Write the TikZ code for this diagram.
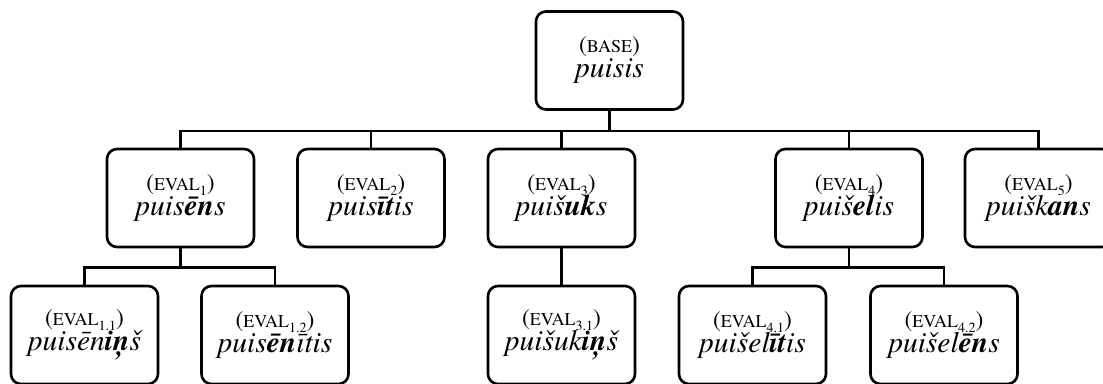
\documentclass[tikz,border=0pt]{standalone}
\usepackage{fontspec}
\setmainfont{texgyretermes}[Extension=.otf, UprightFont=*-regular,
  ItalicFont=*-italic, BoldFont=*-bold, BoldItalicFont=*-bolditalic]
\usepackage{graphicx}

% fake small capitals and lowered index for the category labels
\newcommand{\catname}[1]{{\fontsize{18}{18}\selectfont #1}}
\newcommand{\catidx}[1]{\raisebox{-5pt}{\fontsize{14}{14}\selectfont #1}}
\newcommand{\catline}[2]{{\fontsize{23.5}{25}\selectfont(\catname{#1}\catidx{#2})}}
\newcommand{\wordline}[1]{{\itshape #1}}
\newcommand{\formfont}{\fontsize{29.5}{25}\selectfont\lineskiplimit=-100pt\relax}

\tikzset{
  formbox/.style={draw, line width=2.6pt, rounded corners=10pt,
    minimum width=147pt, minimum height=98pt, inner sep=0pt,
    align=center, font=\formfont},
  branch/.style={line width=2.6pt}
}

\begin{document}
\begin{tikzpicture}[x=1pt, y=-1pt]
  \useasboundingbox (0,0) rectangle (1103,383);

  % base form
  \node[formbox] (base) at (609.5,60.5)
    {\catline{BASE}{}\\\wordline{puisis}};

  % first-level evaluatives
  \node[formbox] (e1) at (180.5,198) {\catline{EVAL}{1}\\\wordline{puis\textbf{ēn}s}};
  \node[formbox] (e2) at (371,198)   {\catline{EVAL}{2}\\\wordline{puis\textbf{īt}is}};
  \node[formbox] (e3) at (561.5,198) {\catline{EVAL}{3}\\\wordline{puiš\textbf{uk}s}};
  \node[formbox] (e4) at (849,198)   {\catline{EVAL}{4}\\\wordline{puiš\textbf{el}is}};
  \node[formbox] (e5) at (1038.5,198){\catline{EVAL}{5}\\\wordline{puišk\textbf{an}s}};

  % second-level evaluatives
  \node[formbox] (e11) at (84.5,335)  {\catline{EVAL}{1.1}\\\wordline{puisēn\textbf{iņ}š}};
  \node[formbox] (e12) at (275,335)   {\catline{EVAL}{1.2}\\\wordline{puis\textbf{ēn}ītis}};
  \node[formbox] (e31) at (561.5,335) {\catline{EVAL}{3.1}\\\wordline{puišuk\textbf{iņ}š}};
  \node[formbox] (e41) at (752.5,335) {\catline{EVAL}{4.1}\\\wordline{puišel\textbf{īt}is}};
  \node[formbox] (e42) at (944,335)   {\catline{EVAL}{4.2}\\\wordline{puišel\textbf{ēn}s}};

  % tree connectors
  \foreach \child in {e1,e2,e3,e4,e5}
    \draw[branch] (base.south) -- ++(0,20) -| (\child.north);
  \foreach \child in {e11,e12}
    \draw[branch] (e1.south) -- ++(0,19) -| (\child.north);
  \draw[branch] (e3.south) -- (e31.north);
  \foreach \child in {e41,e42}
    \draw[branch] (e4.south) -- ++(0,19) -| (\child.north);
\end{tikzpicture}
\end{document}
